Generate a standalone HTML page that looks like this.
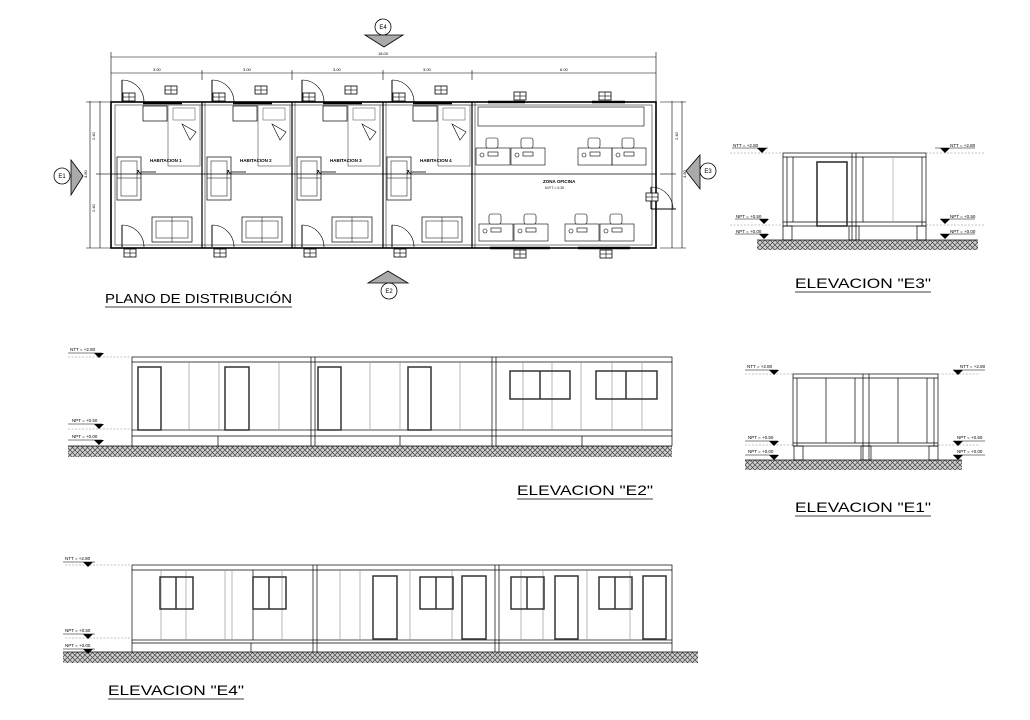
<!DOCTYPE html>
<html><head><meta charset="utf-8"><style>
html,body{margin:0;padding:0;background:#fff;}
svg{display:block;font-family:"Liberation Sans",sans-serif;}
</style></head><body>
<svg width="1030" height="720" viewBox="0 0 1030 720" xmlns="http://www.w3.org/2000/svg">
<defs>
<pattern id="h" width="5" height="5" patternUnits="userSpaceOnUse">
<rect width="5" height="5" fill="#d0d0d0"/>
<path d="M0,0L5,5M5,0L0,5" stroke="#444" stroke-width="0.7"/>
</pattern>
<g id="box"><rect x="0" y="0" width="12" height="8" fill="#fff" stroke="#000" stroke-width="0.8"/><line x1="6" y1="0" x2="6" y2="8" stroke="#000" stroke-width="0.6"/><line x1="0" y1="4" x2="12" y2="4" stroke="#000" stroke-width="0.6"/></g>
<g id="room" fill="none" stroke="#000">
 <line x1="12" y1="80" x2="12" y2="102" stroke-width="1"/>
 <path d="M12,80 A22,22 0 0 1 34,102" stroke-width="0.6"/>
 <use href="#box" x="13" y="93"/>
 <use href="#box" x="55" y="86"/>
 <line x1="33" y1="103" x2="72" y2="103" stroke-width="2.5"/>
 <rect x="33" y="106" width="24" height="15" stroke-width="0.7"/>
 <rect x="58" y="105" width="32" height="61" stroke="#666" stroke-width="0.7"/>
 <rect x="63" y="108" width="22" height="12" stroke="#666" stroke-width="0.6"/>
 <path d="M72,124 L86,132 L80,140 Z" stroke-width="0.6" fill="#fff"/>
 <rect x="7" y="157" width="24" height="43" stroke-width="0.7"/>
 <rect x="11" y="161" width="16" height="35" stroke-width="0.5"/>
 <line x1="7" y1="178" x2="31" y2="178" stroke-width="0.5"/>
 <rect x="42" y="217" width="40" height="25" stroke-width="0.7"/>
 <rect x="46" y="221" width="32" height="17" stroke-width="0.5"/>
 <line x1="62" y1="217" x2="62" y2="242" stroke-width="0.5"/>
 <line x1="12" y1="225" x2="12" y2="247" stroke-width="1"/>
 <path d="M12,225 A22,22 0 0 1 34,247" stroke-width="0.6"/>
 <use href="#box" x="14" y="249"/>
 <path d="M27,170 l4,4 M29,170 l-2,4" stroke-width="0.8"/>
 <line x1="31" y1="172" x2="46" y2="172" stroke-width="0.8"/>
</g>
<g id="desk" fill="none" stroke="#000" stroke-width="0.6">
 <rect x="0" y="0" width="34" height="17"/>
 <rect x="10" y="-10" width="12" height="10" rx="2" fill="#fff"/>
 <rect x="12" y="4" width="10" height="4"/>
 <circle cx="6" cy="7" r="2"/>
</g>
<g id="tri"><path d="M-5,0 L5,0 L0,5 Z" fill="#000"/></g>
</defs>

<g stroke="#000" fill="none">
 <line x1="111" y1="57" x2="656" y2="57" stroke-width="0.6"/>
 <line x1="111" y1="73" x2="656" y2="73" stroke-width="0.6"/>
 <g stroke-width="0.6">
  <line x1="111" y1="52" x2="111" y2="102"/><line x1="656" y1="52" x2="656" y2="102"/>
  <line x1="202" y1="70" x2="202" y2="80"/><line x1="292" y1="70" x2="292" y2="80"/><line x1="383" y1="70" x2="383" y2="80"/><line x1="472" y1="70" x2="472" y2="80"/>
  <line x1="90" y1="101" x2="90" y2="248"/><line x1="100" y1="101" x2="100" y2="248"/>
  <line x1="86" y1="102" x2="110" y2="102"/><line x1="86" y1="248" x2="110" y2="248"/><line x1="96" y1="174" x2="110" y2="174"/>
  <line x1="672" y1="101" x2="672" y2="248"/><line x1="682" y1="101" x2="682" y2="248"/>
  <line x1="660" y1="102" x2="686" y2="102"/><line x1="660" y1="248" x2="686" y2="248"/><line x1="660" y1="174" x2="676" y2="174"/>
 </g>
 <rect x="111" y="102" width="545" height="146" stroke-width="1.6"/>
 <rect x="115" y="105" width="537" height="140" stroke-width="0.5"/>
 <line x1="111" y1="174" x2="656" y2="174" stroke-width="0.7"/>
 <g stroke-width="1.2">
  <line x1="202" y1="102" x2="202" y2="248"/><line x1="205" y1="102" x2="205" y2="248" stroke-width="0.5"/>
  <line x1="292" y1="102" x2="292" y2="248"/><line x1="295" y1="102" x2="295" y2="248" stroke-width="0.5"/>
  <line x1="383" y1="102" x2="383" y2="248"/><line x1="386" y1="102" x2="386" y2="248" stroke-width="0.5"/>
  <line x1="472" y1="102" x2="472" y2="248"/><line x1="475" y1="102" x2="475" y2="248" stroke-width="0.5"/>
 </g>
</g>
<g fill="#000" font-size="4">
 <text x="378" y="55">18.00</text>
 <text x="153" y="71">3.00</text><text x="243" y="71">3.00</text><text x="333" y="71">3.00</text><text x="423" y="71">3.00</text><text x="560" y="71">6.00</text>
 <text x="95" y="140" transform="rotate(-90 95 140)">2.40</text><text x="95" y="212" transform="rotate(-90 95 212)">2.40</text><text x="87" y="178" transform="rotate(-90 87 178)">4.80</text>
 <text x="678" y="140" transform="rotate(-90 678 140)">2.40</text><text x="686" y="178" transform="rotate(-90 686 178)">4.80</text>
</g>
<use href="#room" x="110"/><use href="#room" x="200"/><use href="#room" x="290"/><use href="#room" x="380"/>
<g font-size="4.5" font-weight="bold">
 <text x="150" y="162">HABITACION 1</text><text x="240" y="162">HABITACION 2</text><text x="330" y="162">HABITACION 3</text><text x="420" y="162">HABITACION 4</text>
</g>
<g stroke="#000" fill="none">
 <rect x="478" y="107" width="166" height="19" stroke-width="0.6"/>
 <line x1="488" y1="102" x2="525" y2="102" stroke-width="2.5"/><line x1="592" y1="102" x2="625" y2="102" stroke-width="2.5"/>
 <line x1="490" y1="248" x2="550" y2="248" stroke-width="2.5"/><line x1="578" y1="248" x2="630" y2="248" stroke-width="2.5"/>
 <path d="M651,187 A22,22 0 0 1 673,209" stroke-width="0.6"/>
 <line x1="651" y1="187" x2="651" y2="209" stroke-width="1"/>
 <line x1="651" y1="209" x2="676" y2="209" stroke-width="1"/>
</g>
<use href="#box" x="514" y="92"/><use href="#box" x="599" y="92"/>
<use href="#box" x="646" y="193"/>
<use href="#box" x="514" y="250"/><use href="#box" x="600" y="250"/>
<use href="#desk" x="476" y="148"/><use href="#desk" x="511" y="148"/><use href="#desk" x="578" y="148"/><use href="#desk" x="612" y="148"/>
<use href="#desk" x="479" y="224"/><use href="#desk" x="514" y="224"/><use href="#desk" x="565" y="224"/><use href="#desk" x="600" y="224"/>
<text x="543" y="183" font-size="4.5" font-weight="bold">ZONA OFICINA</text>
<text x="545" y="189" font-size="3.5">N.P.T = 0.20</text>
<g stroke="#000" stroke-width="0.8">
 <circle cx="383" cy="27" r="8" fill="#fff"/>
 <path d="M365,35 L403,35 L384,47 Z" fill="#aaa"/>
 <path d="M368,283 L408,283 L388,271 Z" fill="#aaa"/>
 <circle cx="389" cy="291" r="8" fill="#fff"/>
 <circle cx="62" cy="176" r="8" fill="#fff"/>
 <path d="M71,160 L71,195 L83,176 Z" fill="#aaa"/>
 <circle cx="708" cy="171" r="8" fill="#fff"/>
 <path d="M700,155 L700,189 L686,171 Z" fill="#aaa"/>
</g>
<g font-size="6" text-anchor="middle"><text x="383" y="29">E4</text><text x="389" y="293">E2</text><text x="62" y="178">E1</text><text x="708" y="173">E3</text></g>
<text x="105" y="303" font-size="13" textLength="187" lengthAdjust="spacingAndGlyphs">PLANO DE DISTRIBUCIÓN</text>
<line x1="105" y1="307" x2="292" y2="307" stroke="#000" stroke-width="0.8"/>

<rect x="757" y="240" width="221" height="10" fill="url(#h)"/>
<line x1="757" y1="240" x2="978" y2="240" stroke="#000" stroke-width="0.7"/>
<g stroke="#000" fill="none" stroke-width="0.7">
 <rect x="783" y="153" width="143" height="73"/>
 <line x1="787" y1="157" x2="787" y2="226"/><line x1="922" y1="157" x2="922" y2="226"/>
 <line x1="783" y1="157" x2="926" y2="157"/><line x1="783" y1="222" x2="926" y2="222"/>
 <line x1="852" y1="153" x2="852" y2="240"/><line x1="856" y1="153" x2="856" y2="240"/>
 <line x1="793" y1="157" x2="793" y2="222"/><line x1="863" y1="157" x2="863" y2="222"/><line x1="893" y1="157" x2="893" y2="222" stroke="#aaa"/>
 <rect x="817" y="162" width="30" height="64" stroke-width="1.6" stroke="#333"/>
 <rect x="783" y="226" width="9" height="14"/><rect x="849" y="226" width="10" height="14"/><rect x="917" y="226" width="9" height="14"/>
 <g stroke-dasharray="2,1.5" stroke="#888" stroke-width="0.5"><line x1="730" y1="153" x2="783" y2="153"/><line x1="926" y1="153" x2="985" y2="153"/><line x1="730" y1="225" x2="783" y2="225"/><line x1="926" y1="225" x2="985" y2="225"/></g>
 <g stroke-width="0.5"><line x1="732" y1="148" x2="768" y2="148"/><line x1="935" y1="148" x2="975" y2="148"/><line x1="735" y1="219" x2="768" y2="219"/><line x1="940" y1="219" x2="975" y2="219"/><line x1="735" y1="234" x2="768" y2="234"/><line x1="940" y1="234" x2="975" y2="234"/></g>
</g>
<use href="#tri" x="762" y="148"/><use href="#tri" x="945" y="148"/><use href="#tri" x="764" y="219"/><use href="#tri" x="945" y="219"/><use href="#tri" x="764" y="234"/><use href="#tri" x="945" y="234"/>
<g font-size="4.5"><text x="733" y="147">NTT = +2.80</text><text x="950" y="147">NTT = +2.80</text><text x="736" y="218">NPT = +0.50</text><text x="950" y="218">NPT = +0.50</text><text x="736" y="233">NPT = +0.00</text><text x="950" y="233">NPT = +0.00</text></g>
<text x="795" y="288" font-size="14" textLength="136" lengthAdjust="spacingAndGlyphs">ELEVACION "E3"</text>
<line x1="795" y1="292" x2="931" y2="292" stroke="#000" stroke-width="0.7"/>

<rect x="745" y="460" width="217" height="10" fill="url(#h)"/>
<line x1="745" y1="460" x2="962" y2="460" stroke="#000" stroke-width="0.7"/>
<g stroke="#000" fill="none" stroke-width="0.7">
 <rect x="793" y="374" width="145" height="72"/>
 <line x1="797" y1="378" x2="797" y2="446"/><line x1="934" y1="378" x2="934" y2="446"/>
 <line x1="793" y1="378" x2="938" y2="378"/><line x1="793" y1="443" x2="938" y2="443"/>
 <line x1="863" y1="374" x2="863" y2="460"/><line x1="869" y1="374" x2="869" y2="460"/>
 <line x1="826" y1="378" x2="826" y2="443"/><line x1="855" y1="378" x2="855" y2="443"/><line x1="898" y1="378" x2="898" y2="443"/><line x1="927" y1="378" x2="927" y2="443"/>
 <rect x="794" y="446" width="9" height="14"/><rect x="861" y="446" width="10" height="14"/><rect x="929" y="446" width="9" height="14"/>
 <g stroke-dasharray="2,1.5" stroke="#888" stroke-width="0.5"><line x1="745" y1="374" x2="793" y2="374"/><line x1="938" y1="374" x2="980" y2="374"/><line x1="745" y1="445" x2="793" y2="445"/><line x1="938" y1="445" x2="980" y2="445"/></g>
 <g stroke-width="0.5"><line x1="745" y1="370" x2="778" y2="370"/><line x1="953" y1="370" x2="985" y2="370"/><line x1="745" y1="441" x2="778" y2="441"/><line x1="953" y1="441" x2="985" y2="441"/><line x1="745" y1="455" x2="778" y2="455"/><line x1="953" y1="455" x2="985" y2="455"/></g>
</g>
<use href="#tri" x="774" y="370"/><use href="#tri" x="958" y="370"/><use href="#tri" x="774" y="441"/><use href="#tri" x="958" y="441"/><use href="#tri" x="774" y="455"/><use href="#tri" x="958" y="455"/>
<g font-size="4.5"><text x="747" y="368">NTT = +2.80</text><text x="960" y="368">NTT = +2.80</text><text x="748" y="439">NPT = +0.50</text><text x="957" y="439">NPT = +0.50</text><text x="748" y="453">NPT = +0.00</text><text x="957" y="453">NPT = +0.00</text></g>
<text x="795" y="512" font-size="14" textLength="136" lengthAdjust="spacingAndGlyphs">ELEVACION "E1"</text>
<line x1="795" y1="516" x2="931" y2="516" stroke="#000" stroke-width="0.7"/>

<rect x="68" y="446" width="604" height="11" fill="url(#h)"/>
<line x1="68" y1="446" x2="672" y2="446" stroke="#000" stroke-width="0.7"/>
<g stroke="#000" fill="none" stroke-width="0.7">
 <rect x="132" y="357" width="540" height="73"/>
 <line x1="132" y1="362" x2="672" y2="362"/><line x1="132" y1="436" x2="672" y2="436"/>
 <line x1="311" y1="357" x2="311" y2="446"/><line x1="315" y1="357" x2="315" y2="446"/>
 <line x1="492" y1="357" x2="492" y2="446"/><line x1="496" y1="357" x2="496" y2="446"/>
 <g stroke="#999"><line x1="189" y1="362" x2="189" y2="430"/><line x1="219" y1="362" x2="219" y2="430"/><line x1="279" y1="362" x2="279" y2="430"/><line x1="370" y1="362" x2="370" y2="430"/><line x1="400" y1="362" x2="400" y2="430"/><line x1="460" y1="362" x2="460" y2="430"/><line x1="523" y1="362" x2="523" y2="430"/><line x1="552" y1="362" x2="552" y2="430"/><line x1="581" y1="362" x2="581" y2="430"/><line x1="612" y1="362" x2="612" y2="430"/><line x1="642" y1="362" x2="642" y2="430"/></g>
 <line x1="132" y1="430" x2="132" y2="446"/><line x1="672" y1="430" x2="672" y2="446"/><line x1="218" y1="436" x2="218" y2="446"/><line x1="400" y1="436" x2="400" y2="446"/><line x1="582" y1="436" x2="582" y2="446"/>
 <g stroke-width="1.5" stroke="#333"><rect x="138" y="367" width="23" height="63"/><rect x="225" y="367" width="24" height="63"/><rect x="318" y="367" width="23" height="63"/><rect x="408" y="367" width="23" height="63"/>
 <rect x="510" y="371" width="60" height="28"/><line x1="540" y1="371" x2="540" y2="399"/><rect x="596" y="371" width="61" height="28"/><line x1="626" y1="371" x2="626" y2="399"/></g>
 <g stroke-dasharray="2,1.5" stroke="#888" stroke-width="0.5"><line x1="68" y1="357" x2="132" y2="357"/><line x1="68" y1="429" x2="132" y2="429"/></g>
 <g stroke-width="0.5"><line x1="68" y1="353" x2="102" y2="353"/><line x1="68" y1="424" x2="102" y2="424"/><line x1="68" y1="440" x2="102" y2="440"/></g>
</g>
<use href="#tri" x="99" y="353"/><use href="#tri" x="99" y="424"/><use href="#tri" x="99" y="440"/>
<g font-size="4.5"><text x="70" y="351">NTT = +2.80</text><text x="72" y="422">NPT = +0.50</text><text x="72" y="438">NPT = +0.00</text></g>
<text x="517" y="495" font-size="14" textLength="136" lengthAdjust="spacingAndGlyphs">ELEVACION "E2"</text>
<line x1="517" y1="499" x2="653" y2="499" stroke="#000" stroke-width="0.7"/>

<rect x="63" y="652" width="635" height="11" fill="url(#h)"/>
<line x1="63" y1="652" x2="698" y2="652" stroke="#000" stroke-width="0.7"/>
<g stroke="#000" fill="none" stroke-width="0.7">
 <rect x="132" y="565" width="540" height="75"/>
 <line x1="132" y1="570" x2="672" y2="570"/><line x1="132" y1="643" x2="672" y2="643"/>
 <line x1="251" y1="643" x2="251" y2="652"/><line x1="132" y1="640" x2="132" y2="652"/><line x1="672" y1="640" x2="672" y2="652"/>
 <line x1="253" y1="570" x2="253" y2="640"/>
 <line x1="313" y1="565" x2="313" y2="652"/><line x1="317" y1="565" x2="317" y2="652"/>
 <line x1="495" y1="565" x2="495" y2="652"/><line x1="499" y1="565" x2="499" y2="652"/>
 <g stroke="#999"><line x1="161" y1="570" x2="161" y2="640"/><line x1="186" y1="570" x2="186" y2="640"/><line x1="225" y1="570" x2="225" y2="640"/><line x1="232" y1="570" x2="232" y2="640"/><line x1="282" y1="570" x2="282" y2="640"/><line x1="340" y1="570" x2="340" y2="640"/><line x1="360" y1="570" x2="360" y2="640"/><line x1="410" y1="570" x2="410" y2="640"/><line x1="452" y1="570" x2="452" y2="640"/><line x1="521" y1="570" x2="521" y2="640"/><line x1="543" y1="570" x2="543" y2="640"/><line x1="587" y1="570" x2="587" y2="640"/><line x1="630" y1="570" x2="630" y2="640"/></g>
 <g stroke-width="1.5" stroke="#333">
  <rect x="160" y="577" width="33" height="32"/><line x1="176" y1="577" x2="176" y2="609"/>
  <rect x="253" y="577" width="33" height="32"/><line x1="269" y1="577" x2="269" y2="609"/>
  <rect x="420" y="577" width="33" height="32"/><line x1="436" y1="577" x2="436" y2="609"/>
  <rect x="511" y="577" width="33" height="32"/><line x1="527" y1="577" x2="527" y2="609"/>
  <rect x="599" y="577" width="33" height="32"/><line x1="615" y1="577" x2="615" y2="609"/>
  <rect x="373" y="576" width="24" height="63"/><rect x="462" y="576" width="24" height="63"/><rect x="555" y="576" width="23" height="63"/><rect x="643" y="576" width="23" height="63"/>
 </g>
 <g stroke-dasharray="2,1.5" stroke="#888" stroke-width="0.5"><line x1="65" y1="565" x2="132" y2="565"/><line x1="65" y1="638" x2="132" y2="638"/></g>
 <g stroke-width="0.5"><line x1="63" y1="562" x2="95" y2="562"/><line x1="63" y1="634" x2="95" y2="634"/><line x1="63" y1="649" x2="95" y2="649"/></g>
</g>
<use href="#tri" x="88" y="562"/><use href="#tri" x="88" y="634"/><use href="#tri" x="88" y="649"/>
<g font-size="4.5"><text x="65" y="560">NTT = +2.80</text><text x="65" y="632">NPT = +0.50</text><text x="65" y="647">NPT = +0.00</text></g>
<text x="108" y="695" font-size="14" textLength="136" lengthAdjust="spacingAndGlyphs">ELEVACION "E4"</text>
<line x1="108" y1="699" x2="244" y2="699" stroke="#000" stroke-width="0.7"/>
</svg>
</body></html>
